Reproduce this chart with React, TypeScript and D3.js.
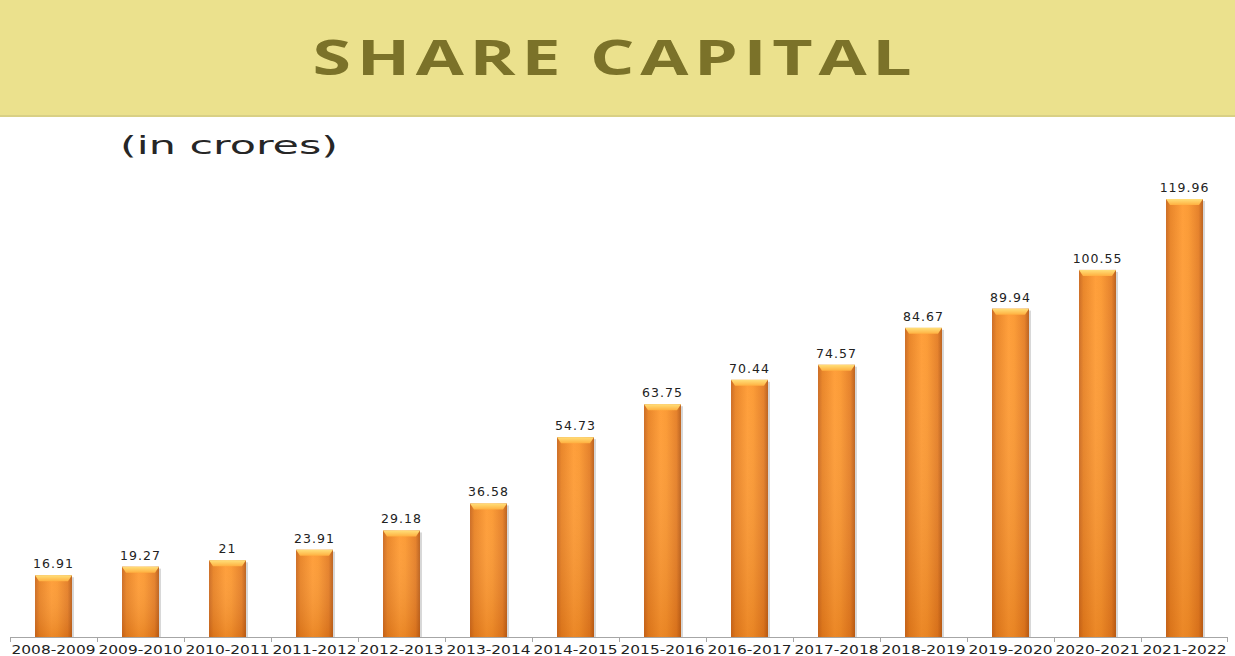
import React from "react";
import * as d3 from "d3";

const categories = [
  "2008-2009", "2009-2010", "2010-2011", "2011-2012", "2012-2013", "2013-2014", "2014-2015",
  "2015-2016", "2016-2017", "2017-2018", "2018-2019", "2019-2020", "2020-2021", "2021-2022",
];
const values = [16.91, 19.27, 21, 23.91, 29.18, 36.58, 54.73, 63.75, 70.44, 74.57, 84.67, 89.94, 100.55, 119.96];
const valueLabels = ["16.91", "19.27", "21", "23.91", "29.18", "36.58", "54.73", "63.75", "70.44", "74.57", "84.67", "89.94", "100.55", "119.96"];

const W = 1235;
const H = 656;

export default function App() {
  const x = d3.scaleBand<string>().domain(categories).range([10, 1228]).paddingInner(0.575).paddingOuter(0.2875);
  const xb = d3.scaleBand<string>().domain(categories).range([10, 1228]);
  const y = d3.scaleLinear().domain([0, 140]).range([637, 637 - 140 * 3.651]);
  const bw = x.bandwidth();

  return (
    <div style={{ position: "absolute", left: 0, top: 0, width: W, height: H, background: "#fff" }}>
      <svg width={W} height={H} style={{ display: "block" }}>
        <defs>
          <linearGradient id="barH" x1="0" x2="1" y1="0" y2="0">
            <stop offset="0" stopColor="#C9651A" />
            <stop offset="0.12" stopColor="#E8801F" />
            <stop offset="0.45" stopColor="#FF9A30" />
            <stop offset="0.6" stopColor="#FB962C" />
            <stop offset="0.88" stopColor="#E47B20" />
            <stop offset="1" stopColor="#B85A14" />
          </linearGradient>
          <linearGradient id="barV" x1="0" x2="0" y1="0" y2="1">
            <stop offset="0" stopColor="#FFFFFF" stopOpacity="0.05" />
            <stop offset="1" stopColor="#B0500A" stopOpacity="0.25" />
          </linearGradient>
          <linearGradient id="cap" x1="0" x2="0" y1="0" y2="1">
            <stop offset="0" stopColor="#FFE07A" />
            <stop offset="1" stopColor="#FFB040" />
          </linearGradient>
        </defs>

        <rect x={0} y={0} width={W} height={116} fill="#EBE18D" />
        <rect x={0} y={115} width={W} height={2} fill="#D9D085" />
        <text x={615} y={75} textAnchor="middle" textLength={605} lengthAdjust="spacingAndGlyphs"
          fontFamily="'Open Sans', Lato, sans-serif" fontWeight={700} fontSize={49} letterSpacing={4} fill="#7B7229">
          SHARE CAPITAL
        </text>

        <text x={120} y={154} textLength={218} lengthAdjust="spacingAndGlyphs"
          fontFamily="'DejaVu Sans', Verdana, sans-serif" fontSize={24} fill="#262626">
          (in crores)
        </text>

        {categories.map((c, i) => {
          const bx = x(c)!;
          const by = y(values[i]);
          const h = y(0) - by;
          return (
            <g key={c}>
              <rect x={bx + 2} y={by + 2} width={bw} height={h - 2} fill="#BDBDBD" opacity={0.6} />
              <rect x={bx} y={by} width={bw} height={h} fill="url(#barH)" />
              <rect x={bx} y={by} width={bw} height={h} fill="url(#barV)" />
              <path
                d={`M${bx},${by} L${bx + bw},${by} L${bx + bw - 4},${by + 6} L${bx + 4},${by + 6} Z`}
                fill="url(#cap)"
              />
              <text x={bx + bw / 2} y={by - 7} textAnchor="middle" fontFamily="'DejaVu Sans', Verdana, sans-serif"
                fontSize={12.5} letterSpacing={1} fill="#222">
                {valueLabels[i]}
              </text>
            </g>
          );
        })}

        <line x1={10} x2={1228} y1={637.5} y2={637.5} stroke="#A6A6A6" strokeWidth={1} />
        {categories.map((c) => (
          <line key={"t" + c} x1={xb(c)! + 0.5} x2={xb(c)! + 0.5} y1={637} y2={642} stroke="#A6A6A6" />
        ))}
        <line x1={1227.5} x2={1227.5} y1={637} y2={642} stroke="#A6A6A6" />
        {categories.map((c) => (
          <text key={"l" + c} x={xb(c)! + xb.bandwidth() / 2} y={654} textAnchor="middle"
            textLength={84} lengthAdjust="spacingAndGlyphs"
            fontFamily="'DejaVu Sans', Verdana, sans-serif" fontSize={13} fill="#222">
            {c}
          </text>
        ))}
      </svg>
    </div>
  );
}
